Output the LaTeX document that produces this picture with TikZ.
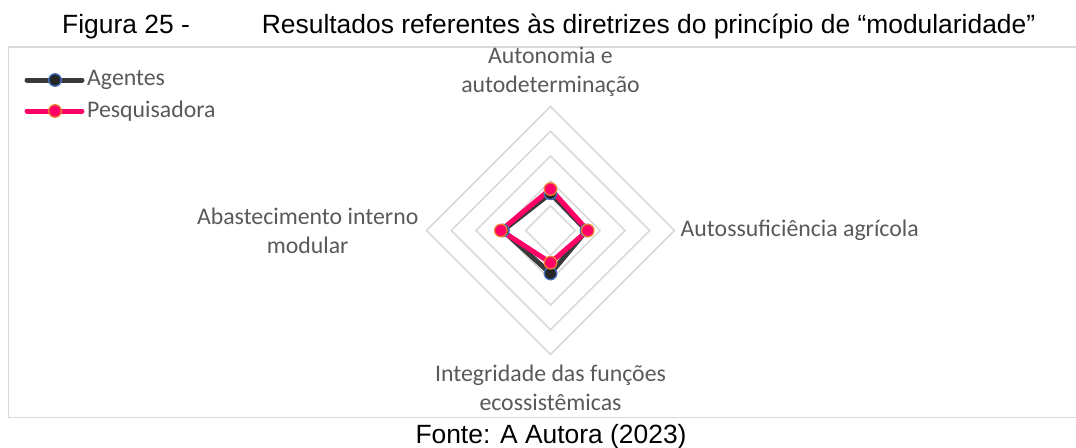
\documentclass[tikz,border=0pt]{standalone}
\usepackage{fontspec}
\setmainfont{Liberation Sans}
\newfontfamily\chartfont{Carlito}
\usetikzlibrary{positioning}

\definecolor{gridgray}{HTML}{D9D9D9}
\definecolor{labelgray}{HTML}{595959}
\definecolor{agentline}{HTML}{3A3A3A}
\definecolor{agentedge}{HTML}{4472C4}
\definecolor{pesqline}{HTML}{FF0066}
\definecolor{pesqedge}{HTML}{ED7D31}

\tikzset{
  axislabel/.style={font=\chartfont\fontsize{23.8}{29}\selectfont,text=labelgray,align=center,inner sep=0pt},
  legendtext/.style={font=\chartfont\fontsize{23.8}{29}\selectfont,text=labelgray,inner sep=0pt},
  ring/.style={draw=gridgray,line width=1.6pt},
  agentes/.style={draw=agentline,line width=5pt,line join=round,line cap=round},
  pesquisa/.style={draw=pesqline,line width=5pt,line join=round,line cap=round},
  agmark/.style={circle,fill=black!85,draw=agentedge,line width=1.3pt,minimum size=12.5pt,inner sep=0pt},
  pqmark/.style={circle,fill=pesqline,draw=pesqedge,line width=1.3pt,minimum size=12.5pt,inner sep=0pt},
}

\begin{document}
\begin{tikzpicture}[x=1pt,y=-1pt]
  \useasboundingbox (0,0) rectangle (1076,447);
  \draw[gridgray,line width=1.5pt] (8.7,47) rectangle (1090,417.7);
  \node(titulo)[anchor=base west,inner sep=0pt,font=\fontsize{26.4}{30}\selectfont] at (62,33.3) {Figura 25 -};
  \node(tituloTexto)[anchor=base west,inner sep=0pt,font=\fontsize{26.4}{30}\selectfont] at (261.7,33.3) {Resultados referentes às diretrizes do princípio de “modularidade”};
  \node(fonte)[anchor=base,inner sep=0pt,font=\fontsize{26.4}{30}\selectfont] at (551,443) {Fonte: A Autora (2023)};
\begin{scope}[shift={(550.5,230.5)}]
  \foreach \r in {1,...,5}
    \draw[ring] (0,-24.8*\r) -- (24.8*\r,0) -- (0,24.8*\r) -- (-24.8*\r,0) -- cycle;
  \coordinate(vTop) at (0,-124);
  \coordinate(vRight) at (124,0);
  \coordinate(vBottom) at (0,124);
  \coordinate(vLeft) at (-124,0);
  \coordinate(agTop) at (0,-37.2);
  \coordinate(agRight) at (36,0);
  \coordinate(agBottom) at (0,43);
  \coordinate(agLeft) at (-47.6,0);
  \coordinate(pqTop) at (0,-41.4);
  \coordinate(pqRight) at (37.2,0);
  \coordinate(pqBottom) at (0,32.2);
  \coordinate(pqLeft) at (-49.6,0);
\end{scope}
  \node(lblAutonomia)[axislabel,above=9.5pt of vTop]{Autonomia e\\autodeterminação};
  \node(lblAgricola)[axislabel,right=6pt of vRight]{Autossuficiência agrícola};
  \node(lblFuncoes)[axislabel,below=10.5pt of vBottom]{Integridade das funções\\ecossistêmicas};
  \node(lblModular)[axislabel,left=8pt of vLeft]{Abastecimento interno\\modular};
\draw[agentes](agTop)--(agRight)--(agBottom)--(agLeft)--cycle;
\draw[pesquisa](pqTop)--(pqRight)--(pqBottom)--(pqLeft)--cycle;
  \foreach \p in {agTop,agRight,agBottom,agLeft}
    \node[agmark] at (\p) {};
  \foreach \p in {pqTop,pqRight,pqBottom,pqLeft}
    \node[pqmark] at (\p) {};
  % legenda
  \coordinate(legAl) at (27,80);
  \coordinate(legAr) at (82,80);
  \coordinate(legPl) at (27,111);
  \coordinate(legPr) at (82,111);
\draw[agentes](legAl)--(legAr);
\draw[pesquisa](legPl)--(legPr);
  \node(legAm)[agmark] at (55,80) {};
  \node(legPm)[pqmark] at (55,111) {};
  \node(legAgentes)[legendtext,right=5pt of legAr]{Agentes};
  \node(legPesquisadora)[legendtext,right=5pt of legPr]{Pesquisadora};
\end{tikzpicture}
\end{document}
